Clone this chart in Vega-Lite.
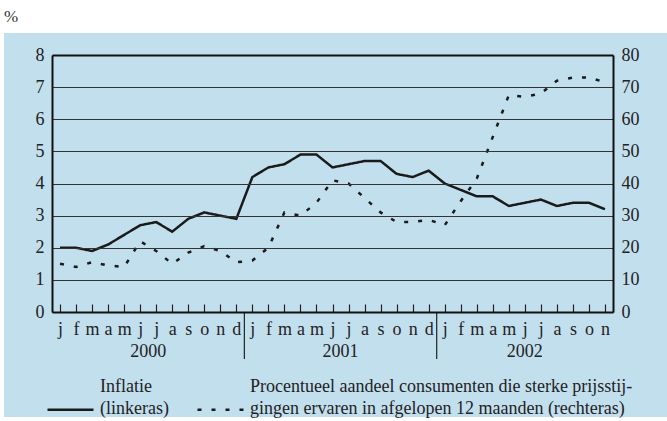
{
  "$schema": "https://vega.github.io/schema/vega-lite/v6.json",
  "width": 561,
  "height": 257,
  "autosize": {"type": "none"},
  "padding": {"left": 52, "top": 55, "right": 54, "bottom": 109},
  "background": "white",
  "config": {
    "font": "Liberation Serif",
    "view": {"stroke": null},
    "axis": {"labelFont": "Liberation Serif", "labelFontSize": 18, "labelColor": "#222"}
  },
  "title": {"text": "%", "anchor": "start", "frame": "group", "dx": -48, "offset": 7, "font": "Liberation Serif", "fontSize": 17, "fontWeight": "normal", "color": "#333"},
  "data": {"values": [
    {"idx": 0, "jaar": 2000, "maand": "j", "inflatie": 2.0, "aandeel": 15},
    {"idx": 1, "jaar": 2000, "maand": "f", "inflatie": 2.0, "aandeel": 14},
    {"idx": 2, "jaar": 2000, "maand": "m", "inflatie": 1.9, "aandeel": 15.5},
    {"idx": 3, "jaar": 2000, "maand": "a", "inflatie": 2.1, "aandeel": 14.5},
    {"idx": 4, "jaar": 2000, "maand": "m", "inflatie": 2.4, "aandeel": 14},
    {"idx": 5, "jaar": 2000, "maand": "j", "inflatie": 2.7, "aandeel": 22},
    {"idx": 6, "jaar": 2000, "maand": "j", "inflatie": 2.8, "aandeel": 19},
    {"idx": 7, "jaar": 2000, "maand": "a", "inflatie": 2.5, "aandeel": 15},
    {"idx": 8, "jaar": 2000, "maand": "s", "inflatie": 2.9, "aandeel": 18.5},
    {"idx": 9, "jaar": 2000, "maand": "o", "inflatie": 3.1, "aandeel": 20.5},
    {"idx": 10, "jaar": 2000, "maand": "n", "inflatie": 3.0, "aandeel": 19},
    {"idx": 11, "jaar": 2000, "maand": "d", "inflatie": 2.9, "aandeel": 15.5},
    {"idx": 12, "jaar": 2001, "maand": "j", "inflatie": 4.2, "aandeel": 16},
    {"idx": 13, "jaar": 2001, "maand": "f", "inflatie": 4.5, "aandeel": 20},
    {"idx": 14, "jaar": 2001, "maand": "m", "inflatie": 4.6, "aandeel": 31},
    {"idx": 15, "jaar": 2001, "maand": "a", "inflatie": 4.9, "aandeel": 30},
    {"idx": 16, "jaar": 2001, "maand": "m", "inflatie": 4.9, "aandeel": 34},
    {"idx": 17, "jaar": 2001, "maand": "j", "inflatie": 4.5, "aandeel": 41},
    {"idx": 18, "jaar": 2001, "maand": "j", "inflatie": 4.6, "aandeel": 40},
    {"idx": 19, "jaar": 2001, "maand": "a", "inflatie": 4.7, "aandeel": 35.5},
    {"idx": 20, "jaar": 2001, "maand": "s", "inflatie": 4.7, "aandeel": 31},
    {"idx": 21, "jaar": 2001, "maand": "o", "inflatie": 4.3, "aandeel": 28},
    {"idx": 22, "jaar": 2001, "maand": "n", "inflatie": 4.2, "aandeel": 28},
    {"idx": 23, "jaar": 2001, "maand": "d", "inflatie": 4.4, "aandeel": 28.7},
    {"idx": 24, "jaar": 2002, "maand": "j", "inflatie": 4.0, "aandeel": 27},
    {"idx": 25, "jaar": 2002, "maand": "f", "inflatie": 3.8, "aandeel": 34.5},
    {"idx": 26, "jaar": 2002, "maand": "m", "inflatie": 3.6, "aandeel": 41.5},
    {"idx": 27, "jaar": 2002, "maand": "a", "inflatie": 3.6, "aandeel": 54.5},
    {"idx": 28, "jaar": 2002, "maand": "m", "inflatie": 3.3, "aandeel": 67.5},
    {"idx": 29, "jaar": 2002, "maand": "j", "inflatie": 3.4, "aandeel": 67},
    {"idx": 30, "jaar": 2002, "maand": "j", "inflatie": 3.5, "aandeel": 68},
    {"idx": 31, "jaar": 2002, "maand": "a", "inflatie": 3.3, "aandeel": 72},
    {"idx": 32, "jaar": 2002, "maand": "s", "inflatie": 3.4, "aandeel": 73},
    {"idx": 33, "jaar": 2002, "maand": "o", "inflatie": 3.4, "aandeel": 73},
    {"idx": 34, "jaar": 2002, "maand": "n", "inflatie": 3.2, "aandeel": 71.5}
  ]},
  "layer": [
    {
      "layer": [
        {
          "data": {"values": [{}]},
          "mark": {"type": "rect", "fill": "#c2dfee", "clip": false},
          "encoding": {
            "x": {
              "datum": -3.494, "type": "quantitative", "title": null,
              "scale": {"domain": [-0.5, 34.5], "nice": false, "zero": false},
              "axis": {
                "orient": "bottom",
                "values": [0,1,2,3,4,5,6,7,8,9,10,11,12,13,14,15,16,17,18,19,20,21,22,23,24,25,26,27,28,29,30,31,32,33,34],
                "tickCount": 40,
                "labelExpr": "['j','f','m','a','m','j','j','a','s','o','n','d'][datum.value % 12]",
                "domain": true, "domainColor": "#111", "domainWidth": 2,
                "tickSize": -8, "tickColor": "#222", "tickWidth": 1.2,
                "labelPadding": 16, "grid": false, "labelOverlap": false, "labelFlush": false, "zindex": 1
              }
            },
            "x2": {"datum": 37.87},
            "y": {"datum": 8.685, "type": "quantitative", "title": null, "scale": {"domain": [0, 8], "nice": false, "zero": false}, "axis": null},
            "y2": {"datum": -3.268}
          }
        },
        {
          "transform": [
            {"aggregate": [{"op": "min", "field": "idx", "as": "start"}], "groupby": ["jaar"]},
            {"filter": "datum.jaar > 2000"}
          ],
          "mark": {"type": "rule", "xOffset": -8, "color": "#222", "strokeWidth": 1.2},
          "encoding": {
            "x": {"field": "start", "type": "quantitative", "title": null, "scale": {"domain": [-0.5, 34.5], "nice": false, "zero": false}},
            "y": {"datum": 0, "type": "quantitative", "title": null, "scale": {"domain": [0, 8], "nice": false, "zero": false}, "axis": null},
            "y2": {"datum": -1.46}
          }
        },
        {
          "transform": [
            {"aggregate": [{"op": "mean", "field": "idx", "as": "midden"}], "groupby": ["jaar"]}
          ],
          "mark": {"type": "text", "fontSize": 18, "color": "#222", "baseline": "middle", "font": "Liberation Serif"},
          "encoding": {
            "x": {"field": "midden", "type": "quantitative", "title": null, "scale": {"domain": [-0.5, 34.5], "nice": false, "zero": false}},
            "y": {"datum": -1.25, "type": "quantitative", "title": null, "scale": {"domain": [0, 8], "nice": false, "zero": false}, "axis": null},
            "text": {"field": "jaar", "type": "nominal"}
          }
        }
      ]
    },
    {
      "mark": {"type": "line", "color": "#1a1a1a", "strokeWidth": 2.5},
      "encoding": {
        "x": {"field": "idx", "type": "quantitative", "title": null, "scale": {"domain": [-0.5, 34.5], "nice": false, "zero": false}},
        "y": {
          "field": "inflatie", "type": "quantitative", "title": null,
          "scale": {"domain": [0, 8], "nice": false, "zero": false},
          "axis": {
            "orient": "left", "values": [0,1,2,3,4,5,6,7,8],
            "domain": true, "domainColor": "#111", "domainWidth": 2,
            "grid": true,
            "gridColor": {"condition": {"test": "datum.value == 8", "value": "#111"}, "value": "#333"},
            "gridWidth": {"condition": {"test": "datum.value == 8", "value": 2}, "value": 1},
            "ticks": false, "labelPadding": 8, "labelOverlap": false, "zindex": 1
          }
        },
        "strokeDash": {
          "datum": "Inflatie (linkeras)", "type": "nominal",
          "scale": {"domain": ["Inflatie (linkeras)", "Procentueel aandeel consumenten die sterke prijsstijgingen ervaren in afgelopen 12 maanden (rechteras)"], "range": [[1, 0], [4, 10]]},
          "legend": {
            "orient": "none", "legendX": -6, "legendY": 330, "direction": "horizontal", "title": null,
            "labelFont": "Liberation Serif", "labelFontSize": 18, "labelColor": "#222", "labelLimit": 600, "labelOffset": 5,
            "columnPadding": 23, "symbolType": "stroke", "symbolSize": 2116, "symbolStrokeWidth": 2.5, "symbolStrokeColor": "#1a1a1a",
            "padding": 0, "labelBaseline": "middle", "zindex": 1,
            "labelExpr": "datum.label == 'Inflatie (linkeras)' ? ['Inflatie', '(linkeras)'] : ['Procentueel aandeel consumenten die sterke prijsstij-', 'gingen ervaren in afgelopen 12 maanden (rechteras)']",
            "encode": {"labels": {"update": {"lineHeight": {"value": 22}, "dy": {"value": -23}}}}
          }
        }
      }
    },
    {
      "mark": {"type": "line", "color": "#1a1a1a", "strokeWidth": 2.5},
      "encoding": {
        "x": {"field": "idx", "type": "quantitative", "title": null, "scale": {"domain": [-0.5, 34.5], "nice": false, "zero": false}},
        "y": {
          "field": "aandeel", "type": "quantitative", "title": null,
          "scale": {"domain": [0, 80], "nice": false, "zero": false},
          "axis": {"orient": "right", "values": [0,10,20,30,40,50,60,70,80], "domain": true, "domainColor": "#111", "domainWidth": 2, "grid": false, "ticks": false, "labelPadding": 8, "labelOverlap": false, "zindex": 1}
        },
        "strokeDash": {"datum": "Procentueel aandeel consumenten die sterke prijsstijgingen ervaren in afgelopen 12 maanden (rechteras)", "type": "nominal"}
      }
    }
  ],
  "resolve": {"scale": {"y": "independent"}}
}
